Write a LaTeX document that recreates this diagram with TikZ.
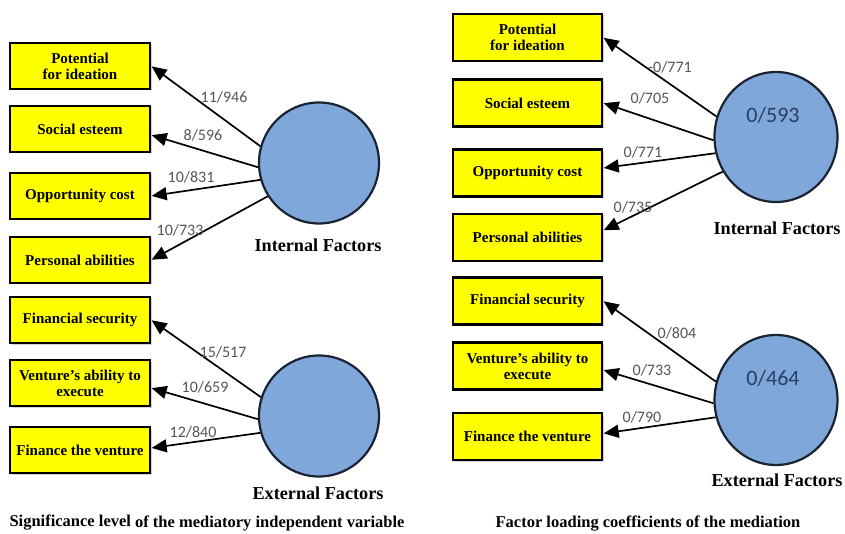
\documentclass[tikz,border=0pt]{standalone}
\usepackage{fontspec}
\setmainfont{Liberation Serif}
\newfontfamily\serfont{Liberation Serif}
\newfontfamily\numfont{Carlito}
\usetikzlibrary{arrows.meta,calc,shadows,shapes.geometric}
\definecolor{boxyellow}{RGB}{255,255,0}
\definecolor{circblue}{RGB}{128,167,218}
\definecolor{circedge}{RGB}{25,35,50}
\definecolor{numgray}{RGB}{85,85,85}
\definecolor{valblue}{RGB}{40,62,98}
\begin{document}
\begin{tikzpicture}[x=1pt,y=-1pt,
  factorbox/.style={draw=black, line width=2.4pt, fill=boxyellow, align=center,
    font=\serfont\fontsize{15}{16}\selectfont\bfseries, inner sep=0pt,
    drop shadow={shadow xshift=1.5pt,shadow yshift=-1.5pt,opacity=0.35}},
  lbox/.style={factorbox, minimum width=140pt, minimum height=46pt},
  rbox/.style={factorbox, minimum width=149pt, minimum height=47pt},
  latent/.style={ellipse, draw=circedge, line width=2.2pt, fill=circblue, inner sep=0pt},
  lcirc/.style={latent, minimum width=120pt, minimum height=121pt},
  rcirc/.style={latent, minimum width=123pt, minimum height=130pt},
  load/.style={line width=1.7pt, -{Triangle[length=15pt,width=13pt]}, shorten >=0.5pt},
  coef/.style={font=\numfont\fontsize{16}{18}\selectfont, text=numgray, inner sep=1pt},
  val/.style={font=\numfont\fontsize{22}{24}\selectfont, text=valblue},
  flabel/.style={font=\serfont\fontsize{18.2}{20}\selectfont\bfseries},
  caption/.style={font=\serfont\fontsize{16.5}{18}\selectfont\bfseries}
]
\useasboundingbox (0,0) rectangle (845,534);

% ---------- left panel ----------
\node[lbox] (pot1) at (80,66) {Potential\\for ideation};
\node[lbox] (soc1) at (80,129) {Social esteem};
\node[lbox] (opp1) at (80,196) {Opportunity cost};
\node[lbox] (per1) at (80,260) {Personal abilities};
\node[lbox] (fin1) at (80,320) {Financial security};
\node[lbox] (ven1) at (80,383) {Venture’s ability to\\execute};
\node[lbox] (fiv1) at (80,450) {Finance the venture};

\node[lcirc] (int1) at (319,163) {};
\node[lcirc] (ext1) at (319,416) {};
\node[flabel] (intl1) at (318,245) {Internal Factors};
\node[flabel] (extl1) at (318,493) {External Factors};

\draw[load] (int1.164) -- (pot1.east);
\draw[load] (int1.184) -- ($(soc1.east)+(0,6)$);
\draw[load] (int1.196) -- (opp1.east);
\draw[load] (int1.213) -- (per1.east);
\draw[load] (ext1.162) -- (fin1.east);
\draw[load] (ext1.183) -- ($(ven1.east)+(0,5)$);
\draw[load] (ext1.196) -- ($(fiv1.east)+(0,-2)$);

\node[coef] (k1) at (224,97) {11/946};
\node[coef] (k2) at (203,135) {8/596};
\node[coef] (k3) at (191,177) {10/831};
\node[coef] (k4) at (180,230) {10/733};
\node[coef] (k5) at (223,352) {15/517};
\node[coef] (k6) at (205,387) {10/659};
\node[coef] (k7) at (193,432) {12/840};

\node[caption, anchor=west] (cap1) at (6,523) {\raisebox{1.5pt}{Significance level} of the mediatory independent variable};

% ---------- right panel ----------
\node[rbox] (pot2) at (527.5,37.5) {Potential\\for ideation};
\node[rbox] (soc2) at (527.5,103) {Social esteem};
\node[rbox] (opp2) at (527.5,173) {Opportunity cost};
\node[rbox] (per2) at (527.5,237.5) {Personal abilities};
\node[rbox] (fin2) at (527.5,301) {Financial security};
\node[rbox] (ven2) at (527.5,366) {Venture’s ability to\\execute};
\node[rbox] (fiv2) at (527.5,436.5) {Finance the venture};

\node[rcirc] (int2) at (776,137) {};
\node[rcirc] (ext2) at (776,400) {};
\node[val] (v1) at (773,115) {0/593};
\node[val] (v2) at (773,378) {0/464};
\node[flabel] (intl2) at (777,228) {Internal Factors};
\node[flabel] (extl2) at (777,480) {External Factors};

\draw[load] (int2.161) -- (pot2.east);
\draw[load] (int2.183) -- (soc2.east);
\draw[load] (int2.195) -- ($(opp2.east)+(0,-5)$);
\draw[load] (int2.213) -- ($(per2.east)+(0,-7)$);
\draw[load] (ext2.163) -- (fin2.east);
\draw[load] (ext2.183) -- ($(ven2.east)+(0,4)$);
\draw[load] (ext2.196) -- ($(fiv2.east)+(0,-3)$);

\node[coef] (m1) at (670,67) {-0/771};
\node[coef] (m2) at (650,98) {0/705};
\node[coef] (m3) at (643,152) {0/771};
\node[coef] (m4) at (633,207) {0/735};
\node[coef] (m5) at (677,333) {0/804};
\node[coef] (m6) at (652,370) {0/733};
\node[coef] (m7) at (642,417) {0/790};

\node[caption] (cap2) at (648,524) {Factor loading coefficients of the mediation};
\end{tikzpicture}
\end{document}
